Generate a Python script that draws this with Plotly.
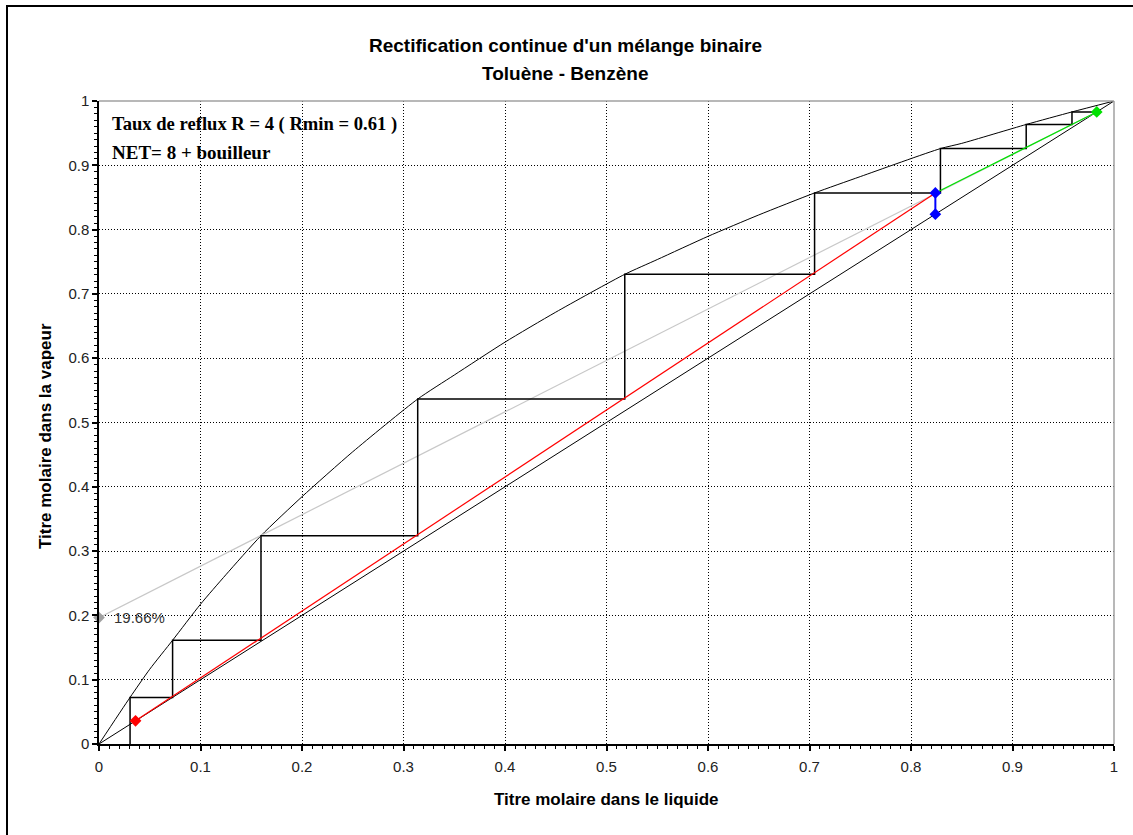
import plotly.graph_objects as go

# ---------------- data ----------------
# Equilibrium curve toluene-benzene
x_eq = [0, 0.0306, 0.05, 0.0725, 0.1, 0.125, 0.1596, 0.2, 0.25, 0.314, 0.35, 0.4, 0.45,
        0.518, 0.55, 0.6, 0.65, 0.705, 0.75, 0.829, 0.85, 0.9135, 0.9586, 1]
y_eq = [0, 0.0725, 0.1163, 0.1613, 0.2174, 0.2632, 0.324, 0.3846, 0.4545, 0.5365, 0.5738,
        0.625, 0.6716, 0.7305, 0.7534, 0.7895, 0.8228, 0.857, 0.8824, 0.926, 0.9341,
        0.9635, 0.983, 1]

# Diagonal y = x
x_diag = [0, 1]
y_diag = [0, 1]

# Key compositions
x_W = 0.036          # bottom (red point)
x_F = 0.824          # feed (blue points)
y_F_op = 0.857       # operating lines intersection
x_D = 0.983          # distillate (green point)
ordonnee = 0.1966    # intercept of rectifying line (19.66 %)

# Grey line (rectifying line prolonged to the y axis)
x_grey = [0, x_D]
y_grey = [ordonnee, x_D]
# Red line (stripping section)
x_red = [x_W, x_F]
y_red = [x_W, y_F_op]
# Green line (rectifying section)
x_green = [x_F, x_D]
y_green = [y_F_op, x_D]
# Blue q-line (vertical)
x_blue = [x_F, x_F]
y_blue = [x_F, y_F_op]

# McCabe-Thiele stairs
stair_x = [0.983, 0.9586, 0.9586, 0.9135, 0.9135, 0.829, 0.829, 0.705, 0.705, 0.518,
           0.518, 0.314, 0.314, 0.1596, 0.1596, 0.0725, 0.0725, 0.0306, 0.0306]
stair_y = [0.983, 0.983, 0.9635, 0.9635, 0.926, 0.926, 0.857, 0.857, 0.7305, 0.7305,
           0.5365, 0.5365, 0.324, 0.324, 0.1613, 0.1613, 0.0725, 0.0725, 0]

tick_vals = [0, 0.1, 0.2, 0.3, 0.4, 0.5, 0.6, 0.7, 0.8, 0.9, 1]
tick_text = ["0", "0.1", "0.2", "0.3", "0.4", "0.5", "0.6", "0.7", "0.8", "0.9", "1"]

title_1 = "Rectification continue d'un mélange binaire"
title_2 = "Toluène - Benzène"
x_title = "Titre molaire dans le liquide"
y_title = "Titre molaire dans la vapeur"
info_1 = "Taux de reflux R = 4 ( Rmin = 0.61 )"
info_2 = "NET= 8 + bouilleur"
label_pct = "19.66%"

# ---------------- figure ----------------
fig = go.Figure()

fig.add_trace(go.Scatter(x=x_diag, y=y_diag, mode="lines",
                         line=dict(color="black", width=1), hoverinfo="skip"))
fig.add_trace(go.Scatter(x=x_eq, y=y_eq, mode="lines",
                         line=dict(color="black", width=1, shape="spline", smoothing=0.6),
                         hoverinfo="skip"))
fig.add_trace(go.Scatter(x=x_grey, y=y_grey, mode="lines",
                         line=dict(color="#c8c8c8", width=1.2), hoverinfo="skip"))
fig.add_trace(go.Scatter(x=stair_x, y=stair_y, mode="lines",
                         line=dict(color="black", width=1.5), hoverinfo="skip"))
fig.add_trace(go.Scatter(x=x_red, y=y_red, mode="lines",
                         line=dict(color="red", width=1.2), hoverinfo="skip"))
fig.add_trace(go.Scatter(x=x_green, y=y_green, mode="lines",
                         line=dict(color="#00e000", width=1.2), hoverinfo="skip"))
fig.add_trace(go.Scatter(x=x_blue, y=y_blue, mode="lines+markers",
                         line=dict(color="blue", width=2),
                         marker=dict(symbol="diamond", size=9, color="blue"),
                         hoverinfo="skip"))
fig.add_trace(go.Scatter(x=[x_grey[0]], y=[y_grey[0]], mode="markers",
                         marker=dict(symbol="diamond", size=9, color="#a0a0a0"),
                         cliponaxis=False, hoverinfo="skip"))
fig.add_trace(go.Scatter(x=[x_red[0]], y=[y_red[0]], mode="markers",
                         marker=dict(symbol="diamond", size=9, color="red"),
                         hoverinfo="skip"))
fig.add_trace(go.Scatter(x=[x_green[1]], y=[y_green[1]], mode="markers",
                         marker=dict(symbol="diamond", size=9, color="#00e000"),
                         cliponaxis=False, hoverinfo="skip"))

axis_common = dict(
    range=[0, 1], tickvals=tick_vals, ticktext=tick_text,
    showline=True, linecolor="black", linewidth=1.5,
    ticks="outside", ticklen=5, tickcolor="black", tickwidth=1.5,
    showgrid=True, gridcolor="black", griddash="1px,2px", gridwidth=1,
    zeroline=False, fixedrange=True,
    tickfont=dict(family="Liberation Sans, Arial", size=15, color="#222"),
    minor=dict(dtick=0.01, ticks="outside", ticklen=3, tickcolor="black",
               tickwidth=1, showgrid=False),
)

fig.update_xaxes(**axis_common, ticklabelstandoff=3)
fig.update_yaxes(**axis_common)

# Plot area pixel geometry: x 99->1114, y 101->744
L, R, T, B = 99, 19, 101, 91
W, H = 1133, 835
pw, ph = W - L - R, H - T - B

def px_x(p):
    return (p - L) / pw

def px_y(p):
    return (H - B - p) / ph

shapes = [
    # grey top and right borders of plot area
    dict(type="line", xref="paper", yref="paper", x0=0, x1=1, y0=1, y1=1,
         line=dict(color="#a0a0a0", width=1.5)),
    dict(type="line", xref="paper", yref="paper", x0=1, x1=1, y0=0, y1=1,
         line=dict(color="#a0a0a0", width=1.5)),
    # outer frame
    dict(type="rect", xref="paper", yref="paper", x0=px_x(7), x1=px_x(1140),
         y0=px_y(845), y1=px_y(6), line=dict(color="black", width=2),
         fillcolor="rgba(0,0,0,0)", layer="below"),
]

annotations = [
    dict(text="<b>" + title_1 + "</b>", xref="paper", yref="paper",
         x=px_x(565), y=px_y(46), showarrow=False, xanchor="center", yanchor="middle",
         font=dict(family="Liberation Sans, Arial", size=19, color="black")),
    dict(text="<b>" + title_2 + "</b>", xref="paper", yref="paper",
         x=px_x(565), y=px_y(74), showarrow=False, xanchor="center", yanchor="middle",
         font=dict(family="Liberation Sans, Arial", size=19, color="black")),
    dict(text="<b>" + x_title + "</b>", xref="paper", yref="paper",
         x=px_x(606), y=px_y(800), showarrow=False, xanchor="center", yanchor="middle",
         font=dict(family="Liberation Sans, Arial", size=17, color="black")),
    dict(text="<b>" + y_title + "</b>", xref="paper", yref="paper",
         x=px_x(46), y=px_y(436), showarrow=False, xanchor="center", yanchor="middle",
         textangle=-90,
         font=dict(family="Liberation Sans, Arial", size=17, color="black")),
    dict(text="<b>" + info_1 + "</b>", xref="paper", yref="paper",
         x=px_x(110), y=px_y(124), showarrow=False, xanchor="left", yanchor="middle",
         font=dict(family="Liberation Serif, Times New Roman", size=18.6, color="black")),
    dict(text="<b>" + info_2 + "</b>", xref="paper", yref="paper",
         x=px_x(110), y=px_y(152), showarrow=False, xanchor="left", yanchor="middle",
         font=dict(family="Liberation Serif, Times New Roman", size=19, color="black")),
    dict(text=label_pct, xref="x", yref="y",
         x=0.013, y=ordonnee, showarrow=False, xanchor="left", yanchor="middle",
         font=dict(family="Liberation Sans, Arial", size=15, color="#333")),
]

fig.update_layout(
    width=W, height=H,
    margin=dict(l=L, r=R, t=T, b=B, pad=0),
    paper_bgcolor="white", plot_bgcolor="white",
    showlegend=False,
    shapes=shapes, annotations=annotations,
)

fig.write_html("out.html", config={"displayModeBar": False})
